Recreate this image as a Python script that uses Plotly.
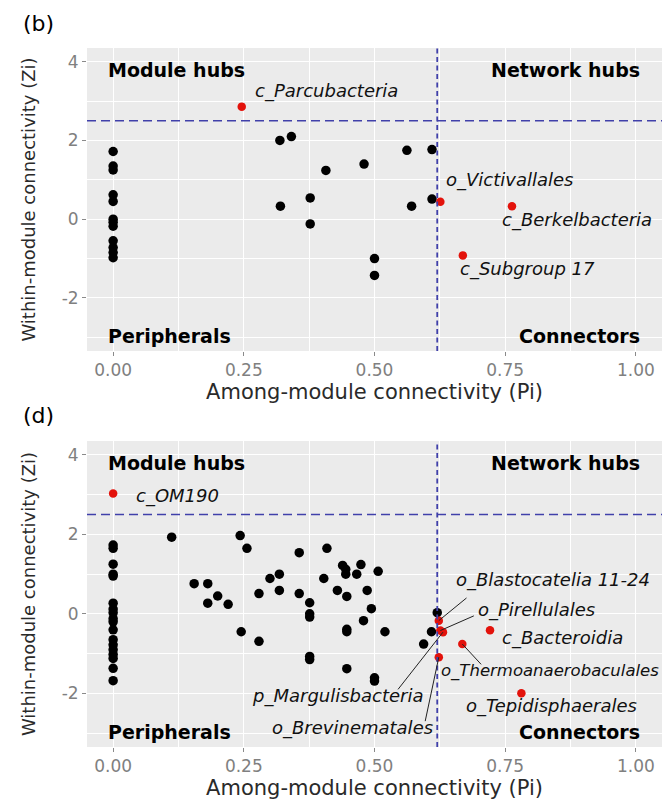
import plotly.graph_objects as go

# ---------------- panel (b) ----------------
b_pi = [0, 0, 0, 0, 0, 0, 0, 0, 0, 0, 0, 0,
        0.319, 0.341, 0.562, 0.610, 0.480, 0.407, 0.377, 0.320, 0.377,
        0.571, 0.610, 0.500, 0.500]
b_zi = [1.72, 1.35, 1.25, 0.62, 0.45, 0.0, -0.08, -0.18, -0.55, -0.72, -0.85, -0.98,
        2.00, 2.10, 1.75, 1.77, 1.40, 1.24, 0.54, 0.33, -0.12,
        0.33, 0.51, -1.00, -1.43]
b_hub_names = ["c_Parcubacteria", "o_Victivallales", "c_Berkelbacteria", "c_Subgroup 17"]
b_hub_pi = [0.246, 0.626, 0.763, 0.669]
b_hub_zi = [2.86, 0.44, 0.33, -0.92]

# ---------------- panel (d) ----------------
d_pi = [0] * 18 + [
    0.112, 0.155, 0.181, 0.181, 0.200, 0.220, 0.243, 0.256, 0.245, 0.279,
    0.279, 0.300, 0.318, 0.318, 0.356, 0.356, 0.376, 0.376, 0.376, 0.376,
    0.376, 0.403, 0.409, 0.429, 0.439, 0.445, 0.445, 0.447, 0.447, 0.447,
    0.447, 0.466, 0.474, 0.479, 0.486, 0.494, 0.500, 0.500, 0.507, 0.520,
    0.594, 0.609, 0.620]
d_zi = [1.73, 1.65, 1.25, 1.00, 0.95, 0.27, 0.12, 0.03, -0.12, -0.20,
        -0.40, -0.65, -0.78, -0.90, -1.02, -1.12, -1.37, -1.68] + [
    1.93, 0.76, 0.76, 0.27, 0.45, 0.24, 1.97, 1.65, -0.45, 0.51,
    -0.69, 0.89, 1.00, 0.59, 0.51, 1.54, 0.28, 0.00, -0.08, -1.07,
    -1.15, 0.89, 1.65, 0.59, 1.22, 1.12, 1.00, 0.44, -0.39, -0.45,
    -1.38, 1.00, 1.24, -0.17, 0.59, 0.13, -1.61, -1.69, 1.07, -0.45,
    -0.76, -0.45, 0.03]
d_hub_names = ["c_OM190", "o_Blastocatelia 11-24", "o_Pirellulales", "p_Margulisbacteria",
               "o_Brevinematales", "o_Thermoanaerobaculales", "c_Bacteroidia",
               "o_Tepidisphaerales"]
d_hub_pi = [0.0, 0.623, 0.626, 0.631, 0.623, 0.668, 0.721, 0.781]
d_hub_zi = [3.03, -0.17, -0.42, -0.46, -1.09, -0.76, -0.41, -2.00]

# thresholds
zi_cut = 2.5
pi_cut = 0.62

x_ticks = [0, 0.25, 0.5, 0.75, 1.0]
x_ticklabels = ["0.00", "0.25", "0.50", "0.75", "1.00"]
y_ticks = [-2, 0, 2, 4]
y_ticklabels = ["-2", "0", "2", "4"]

# label placement: (text x, text y, anchor, optional leader start)
b_label_pos = {
    "c_Parcubacteria": (0.268, 3.27, "left", None),
    "o_Victivallales": (0.633, 0.99, "left", None),
    "c_Berkelbacteria": (0.741, -0.02, "left", None),
    "c_Subgroup 17": (0.660, -1.26, "left", None),
}
d_label_pos = {
    "c_OM190": (0.039, 2.96, "left", None),
    "o_Blastocatelia 11-24": (0.652, 0.86, "left", (0.676, 0.40)),
    "o_Pirellulales": (0.695, 0.11, "left", (0.690, -0.05)),
    "p_Margulisbacteria": (0.599, -2.06, "right", (0.545, -1.90)),
    "o_Brevinematales": (0.615, -2.87, "right", (0.597, -2.70)),
    "o_Thermoanaerobaculales": (0.623, -1.44, "left", (0.704, -1.27)),
    "c_Bacteroidia": (0.741, -0.60, "left", None),
    "o_Tepidisphaerales": (0.672, -2.32, "left", None),
}

FONT = "DejaVu Sans"
GRID_BG = "#EBEBEB"
DASH_COL = "#4040AA"

fig = go.Figure()

panels = [
    ("x", "y", b_pi, b_zi, b_hub_names, b_hub_pi, b_hub_zi, b_label_pos),
    ("x2", "y2", d_pi, d_zi, d_hub_names, d_hub_pi, d_hub_zi, d_label_pos),
]

annotations = []
shapes = []
for xa, ya, pi, zi, names, hpi, hzi, lpos in panels:
    fig.add_trace(go.Scatter(x=pi, y=zi, mode="markers", xaxis=xa, yaxis=ya,
                             marker=dict(color="black", size=9.5),
                             showlegend=False, hoverinfo="skip"))
    fig.add_trace(go.Scatter(x=hpi, y=hzi, mode="markers", xaxis=xa, yaxis=ya,
                             marker=dict(color="#E3120B", size=8.5),
                             showlegend=False, hoverinfo="skip"))
    # threshold lines
    shapes.append(dict(type="line", xref=f"{xa} domain", yref=ya, x0=0, x1=1,
                       y0=zi_cut, y1=zi_cut,
                       line=dict(color=DASH_COL, width=1.4, dash="9px,5px")))
    shapes.append(dict(type="line", xref=xa, yref=f"{ya} domain", x0=pi_cut, x1=pi_cut,
                       y0=0, y1=1,
                       line=dict(color=DASH_COL, width=1.8, dash="5px,3.5px")))
    # hub labels and leader lines
    for name, px, pz in zip(names, hpi, hzi):
        tx, ty, anchor, lead = lpos[name]
        fsize = 16.5 if name == "o_Thermoanaerobaculales" else 18
        annotations.append(dict(x=tx, y=ty, xref=xa, yref=ya, text=f"<i>{name}</i>",
                                showarrow=False, xanchor=anchor, yanchor="middle",
                                font=dict(family=FONT, size=fsize, color="#111111")))
        if lead is not None:
            shapes.append(dict(type="line", xref=xa, yref=ya, x0=lead[0], y0=lead[1],
                               x1=px, y1=pz, line=dict(color="#222222", width=1)))
    # quadrant titles
    for txt, qx, qy, anc in [("Module hubs", -0.014, 3.79, "left"),
                             ("Network hubs", 1.012, 3.79, "right"),
                             ("Peripherals", -0.014, -2.96, "left"),
                             ("Connectors", 1.012, -2.96, "right")]:
        annotations.append(dict(x=qx, y=qy, xref=xa, yref=ya, text=f"<b>{txt}</b>",
                                showarrow=False, xanchor=anc, yanchor="middle",
                                font=dict(family=FONT, size=19, color="black")))

# panel letters (paper coordinates)
PLOT_H = 802 - 48 - 55
annotations.append(dict(x=(38 - 87) / 575, y=(747 - 24) / PLOT_H, xref="paper",
                        yref="paper", text="(b)", showarrow=False, xanchor="center",
                        yanchor="middle", font=dict(family=FONT, size=22, color="black")))
annotations.append(dict(x=(38 - 87) / 575, y=(747 - 415) / PLOT_H, xref="paper",
                        yref="paper", text="(d)", showarrow=False, xanchor="center",
                        yanchor="middle", font=dict(family=FONT, size=22, color="black")))

def xaxis_style(anchor):
    return dict(range=[-0.05, 1.05], tickvals=x_ticks, ticktext=x_ticklabels,
                showgrid=True, gridcolor="white", gridwidth=1.2, zeroline=False,
                ticks="outside", ticklen=4, tickcolor="#8a8a8a", tickwidth=1.2,
                tickfont=dict(family=FONT, size=17, color="#808080"),
                minor=dict(tickvals=[0.125, 0.375, 0.625, 0.875], showgrid=True,
                           gridcolor="white", gridwidth=0.6),
                title=dict(text="Among-module connectivity (Pi)", standoff=2,
                           font=dict(family=FONT, size=21, color="#2a2a2a")),
                anchor=anchor, showline=False)

def yaxis_style(domain, anchor):
    return dict(range=[-3.35, 4.35], tickvals=y_ticks, ticktext=y_ticklabels,
                domain=domain, anchor=anchor,
                showgrid=True, gridcolor="white", gridwidth=1.2, zeroline=False,
                ticks="outside", ticklen=4, tickcolor="#8a8a8a", tickwidth=1.2,
                tickfont=dict(family=FONT, size=17, color="#808080"),
                minor=dict(tickvals=[-3, -1, 1, 3], showgrid=True,
                           gridcolor="white", gridwidth=0.6),
                title=dict(text="Within-module connectivity (Zi)", standoff=21,
                           font=dict(family=FONT, size=18, color="#2a2a2a")),
                showline=False)

fig.update_layout(
    width=668, height=802,
    margin=dict(l=87, r=6, t=48, b=55),
    paper_bgcolor="white", plot_bgcolor=GRID_BG,
    xaxis=xaxis_style("y"),
    yaxis=yaxis_style([(747 - 351) / PLOT_H, 1.0], "x"),
    xaxis2=xaxis_style("y2"),
    yaxis2=yaxis_style([0.0, (747 - 441) / PLOT_H], "x2"),
    annotations=annotations,
    shapes=shapes,
)

fig.write_html("out.html")
